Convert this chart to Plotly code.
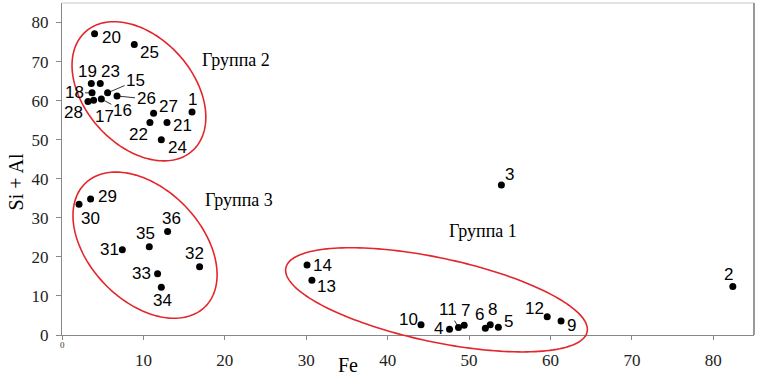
import numpy as np
import plotly.graph_objects as go

# ---- data ----
sample_ids = [str(i) for i in range(1, 37)]
fe = [15.97, 82.4, 53.97, 47.6, 53.6, 52.0, 49.4, 52.6, 61.3, 44.1,
      48.7, 59.6, 30.7, 30.1, 5.6, 4.83, 3.88, 3.69, 3.6, 4.0,
      12.9, 10.8, 4.7, 12.2, 8.88, 6.76, 11.25, 3.19, 3.51, 2.09,
      7.41, 16.9, 11.74, 12.2, 10.72, 12.97]
si_al = [57.1, 12.4, 38.4, 1.5, 2.0, 1.7, 2.5, 2.6, 3.6, 2.6,
         1.9, 4.7, 14.0, 17.9, 62.0, 60.4, 60.1, 62.0, 64.4, 77.1,
         54.4, 54.4, 64.4, 50.0, 74.4, 61.2, 56.8, 59.8, 34.8, 33.5,
         21.8, 17.5, 15.7, 12.2, 22.6, 26.5]

x_ticks = [0, 10, 20, 30, 40, 50, 60, 70, 80]
y_ticks = [0, 10, 20, 30, 40, 50, 60, 70, 80]

group_names = ["Группа 1", "Группа 2", "Группа 3"]
group_label_x = [51.75, 21.4, 21.7]
group_label_y = [26.5, 70.5, 34.5]

# ---- layout constants ----
W, H = 765, 379
ML, MR, MT, MB = 62, 11, 3, 44
XR = [0, 85]
YR = [0, 85]
PW, PH = W - ML - MR, H - MT - MB
PX_X = PW / (XR[1] - XR[0])
PX_Y = PH / (YR[1] - YR[0])

# label offsets (pixels, label centre relative to point), leader line flag
label_off = {
    "1": (0, -12, False), "2": (-4, -12, False), "3": (8, -11, False),
    "4": (-11, -1, False), "5": (10, -6, False), "6": (-6, -14, False),
    "7": (1, -15, False), "8": (2, -15, False), "9": (10, 5, False),
    "10": (-13, -5, False), "11": (-10, -18, True), "12": (-13, -8, False),
    "13": (15, 6, False), "14": (15, 0, False), "15": (28, -12, True),
    "16": (21, 11, True), "17": (11, 16, False), "18": (-18, 0, True),
    "19": (-4, -12, False), "20": (17, 4, False), "21": (15, 3, False),
    "22": (-11, 12, False), "23": (10, -12, False), "24": (16, 8, False),
    "25": (15, 8, False), "26": (29, 3, True), "27": (15, -7, False),
    "28": (-14, 11, True), "29": (17, -3, False), "30": (11, 14, False),
    "31": (-13, 0, False), "32": (-5, -13, False), "33": (-16, 0, False),
    "34": (1, 13, False), "35": (-4, -13, False), "36": (4, -13, False),
}

# ellipses: centre (data units), semi-axes (px), angle (deg, clockwise on screen)
ellipses = [
    (46.0, 9.0, 154, 42, 12),
    (9.45, 62.4, 80, 54, 48),
    (10.2, 23.0, 86, 56, 46),
]

fig = go.Figure()
fig.add_trace(go.Scatter(
    x=fe, y=si_al, mode="markers",
    marker=dict(color="black", size=7),
    cliponaxis=False, hoverinfo="skip", showlegend=False))

anns = []
for sid, xv, yv in zip(sample_ids, fe, si_al):
    ax, ay, lead = label_off[sid]
    anns.append(dict(
        x=xv, y=yv, xref="x", yref="y", text=sid, showarrow=True,
        ax=ax, ay=ay, arrowhead=0, arrowwidth=0.8,
        arrowcolor="black" if lead else "rgba(0,0,0,0)",
        standoff=3, startstandoff=0,
        font=dict(family="Liberation Sans, Arial", size=17, color="black")))

for name, gx, gy in zip(group_names, group_label_x, group_label_y):
    anns.append(dict(x=gx, y=gy, xref="x", yref="y", text=name, showarrow=False,
                     font=dict(family="Liberation Serif, Times New Roman", size=18,
                               color="black")))

# axis titles and small x "0"
anns.append(dict(x=35.1, y=-30 / PH, xref="x", yref="paper", text="Fe",
                 showarrow=False, yanchor="middle",
                 font=dict(family="Liberation Serif, Times New Roman", size=20,
                           color="black")))
anns.append(dict(x=(15.5 - ML) / PW, y=39.2, xref="paper", yref="y", text="Si + Al",
                 showarrow=False, textangle=-90, xanchor="center",
                 font=dict(family="Liberation Serif, Times New Roman", size=20,
                           color="black")))
anns.append(dict(x=0, y=-10 / PH, xref="x", yref="paper", text="0",
                 showarrow=False, yanchor="middle",
                 font=dict(family="Liberation Serif, Times New Roman", size=9,
                           color="#333")))

shapes = []
t = np.linspace(0, 2 * np.pi, 181)
for cx, cy, a, b, ang in ellipses:
    th = np.deg2rad(ang)
    dx = a * np.cos(t) * np.cos(th) - b * np.sin(t) * np.sin(th)
    dy = a * np.cos(t) * np.sin(th) + b * np.sin(t) * np.cos(th)
    xs = cx + dx / PX_X
    ys = cy - dy / PX_Y
    px = (xs - XR[0]) / (XR[1] - XR[0])
    py = (ys - YR[0]) / (YR[1] - YR[0])
    path = "M " + " L ".join(f"{u:.5f},{v:.5f}" for u, v in zip(px, py)) + " Z"
    shapes.append(dict(type="path", path=path, xref="paper", yref="paper",
                       line=dict(color="#e3262b", width=1.6)))

# frame: top light, right darker
shapes.append(dict(type="line", xref="paper", yref="paper", x0=0, x1=1, y0=1, y1=1,
                   line=dict(color="#c8c8c8", width=1)))
shapes.append(dict(type="line", xref="paper", yref="paper", x0=1, x1=1, y0=0, y1=1,
                   line=dict(color="#999999", width=2)))

tickfont = dict(family="Liberation Serif, Times New Roman", size=17, color="#222")
fig.update_layout(
    width=W, height=H, margin=dict(l=ML, r=MR, t=MT, b=MB),
    paper_bgcolor="white", plot_bgcolor="white",
    xaxis=dict(range=XR, tickvals=x_ticks,
               ticktext=["" if v == 0 else str(v) for v in x_ticks],
               showgrid=False, zeroline=False, showline=True, linecolor="#888",
               linewidth=1, ticks="outside", ticklen=4, tickcolor="#888",
               tickfont=tickfont, ticklabelstandoff=6),
    yaxis=dict(range=YR, tickvals=y_ticks, showgrid=False, zeroline=False,
               showline=True, linecolor="#888", linewidth=1, ticks="outside",
               ticklen=5, tickcolor="#888", tickfont=tickfont,
               ticklabelstandoff=4),
    annotations=anns, shapes=shapes, showlegend=False)

fig.write_html("out.html",
               config={"displayModeBar": False, "staticPlot": True},
               post_script="document.body.style.margin='0';"
                           "document.body.style.overflow='hidden';")
